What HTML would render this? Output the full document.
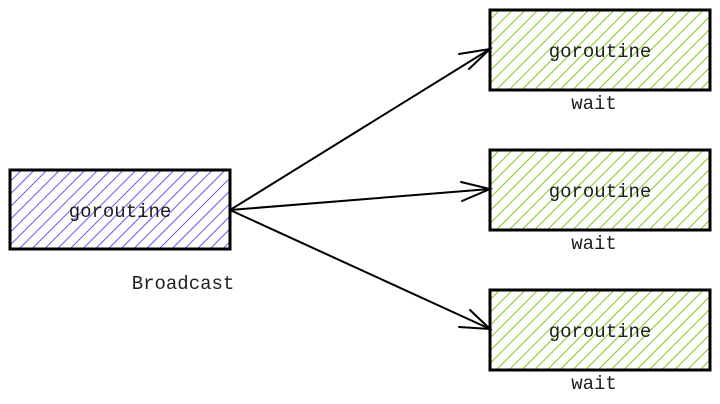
<!DOCTYPE html>
<html><head><style>
html,body{margin:0;padding:0;background:#fff;}
svg{display:block;}
text{font-family:"Liberation Mono","DejaVu Sans Mono",monospace;font-size:19px;fill:#1e1e1e;}
</style></head><body>
<svg width="720" height="404" viewBox="0 0 720 404" xmlns="http://www.w3.org/2000/svg">
<defs>
<pattern id="hp" patternUnits="userSpaceOnUse" width="9" height="9" patternTransform="rotate(45)">
<line x1="0" y1="0" x2="0" y2="9" stroke="#7950f2" stroke-width="2"/>
</pattern>
<pattern id="hg" patternUnits="userSpaceOnUse" width="9" height="9" patternTransform="rotate(45)">
<line x1="0" y1="0" x2="0" y2="9" stroke="#82c91e" stroke-width="2"/>
</pattern>
</defs>
<rect x="10" y="170" width="220" height="79" fill="url(#hp)" stroke="#000" stroke-width="3"/>
<text x="120" y="217" text-anchor="middle">goroutine</text>
<text x="183" y="289" text-anchor="middle">Broadcast</text>

<g stroke="#000" stroke-width="2" fill="none" stroke-linecap="round">
<path d="M230 210 L490 49"/>
<path d="M459 54 L490 49 L469 69"/>
<path d="M230 210 L490 189"/>
<path d="M461 182 L490 189 L462 201"/>
<path d="M230 210 L490 329"/>
<path d="M459 327 L490 329 L470 310"/>
</g>

<rect x="490" y="10" width="220" height="80" fill="url(#hg)" stroke="#000" stroke-width="3"/>
<text x="600" y="57" text-anchor="middle">goroutine</text>
<text x="594" y="109" text-anchor="middle">wait</text>

<rect x="490" y="150" width="220" height="80" fill="url(#hg)" stroke="#000" stroke-width="3"/>
<text x="600" y="197" text-anchor="middle">goroutine</text>
<text x="594" y="249" text-anchor="middle">wait</text>

<rect x="490" y="290" width="220" height="80" fill="url(#hg)" stroke="#000" stroke-width="3"/>
<text x="600" y="337" text-anchor="middle">goroutine</text>
<text x="594" y="389" text-anchor="middle">wait</text>
</svg>
</body></html>
